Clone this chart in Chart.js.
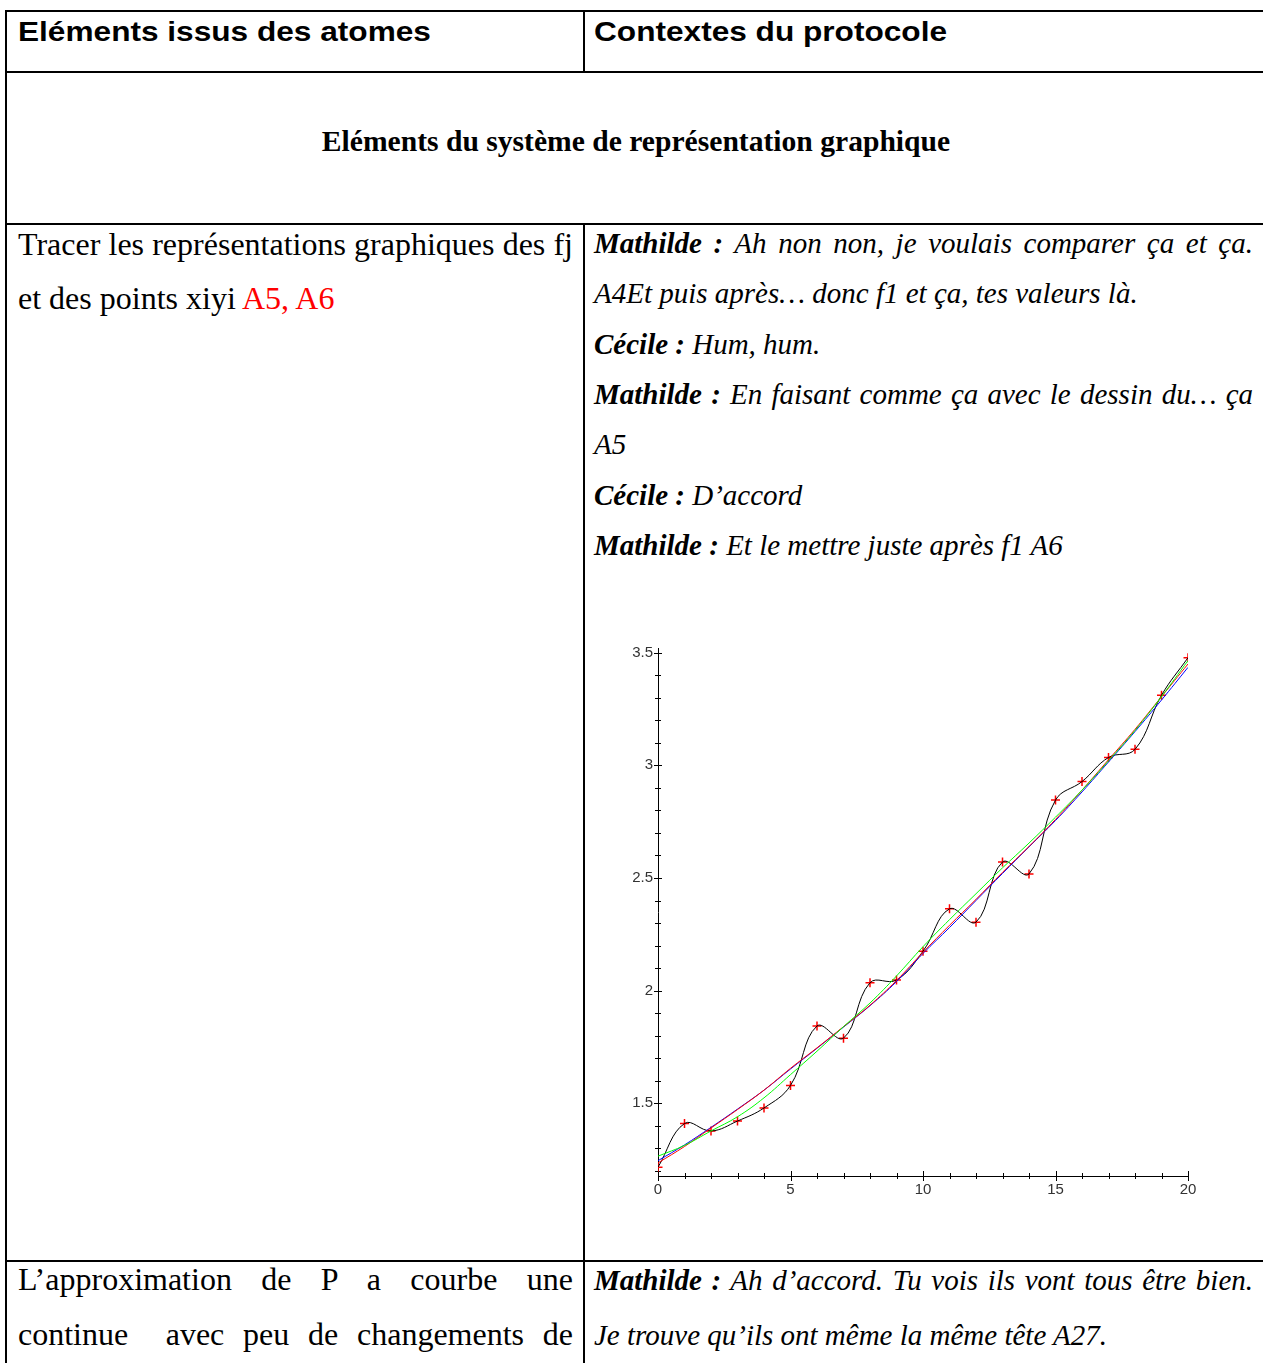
<!DOCTYPE html>
<html lang="fr">
<head>
<meta charset="utf-8">
<title>Eléments du système de représentation graphique</title>
<script src="https://cdn.jsdelivr.net/npm/chart.js@4.4.1/dist/chart.umd.min.js"></script>
<style>
  html, body { margin: 0; padding: 0; background: #fff; }
  body { width: 1263px; height: 1363px; position: relative; overflow: hidden; }
  .rule { position: absolute; background: #000; }
  .txt { position: absolute; white-space: nowrap; color: #000; }
  .head { font: bold 28px "Liberation Sans", Arial, sans-serif; line-height: 40px; transform-origin: 0 0; transform: scaleX(1.129); }
  .title { font: bold 29.6px "Liberation Serif", "Times New Roman", serif; line-height: 40px; text-align: center; }
  .left { font: 32px "Liberation Serif", "Times New Roman", serif; line-height: 40px; }
  .right { font: italic 29px "Liberation Serif", "Times New Roman", serif; line-height: 40px; }
  .just { text-align: justify; text-align-last: justify; }
  .red { color: #ff0000; }
  b { font-weight: bold; }
  #plot { position: absolute; left: 598px; top: 628px; width: 610px; height: 588px; }
</style>
</head>
<body>
<!-- table rules -->
<div class="rule" style="left:5px; top:10px; width:1263px; height:2px"></div>
<div class="rule" style="left:5px; top:10px; width:2px; height:1353px"></div>
<div class="rule" style="left:5px; top:71px; width:1263px; height:2px"></div>
<div class="rule" style="left:5px; top:223px; width:1263px; height:2px"></div>
<div class="rule" style="left:5px; top:1260px; width:1263px; height:2px"></div>
<div class="rule" style="left:583px; top:10px; width:2px; height:63px"></div>
<div class="rule" style="left:583px; top:223px; width:2px; height:1140px"></div>

<!-- header -->
<div class="txt head" style="left:18px; top:12px">Eléments issus des atomes</div>
<div class="txt head" style="left:594px; top:12px">Contextes du protocole</div>
<div class="txt title" style="left:0; top:121px; width:1272px">Eléments du système de représentation graphique</div>

<!-- left column -->
<div class="txt left just" style="left:18px; top:224px; width:555px">Tracer les représentations graphiques des fj</div>
<div class="txt left" style="left:18px; top:278px">et des points xiyi <span class="red">A5, A6</span></div>

<!-- right column -->
<div class="txt right just" style="left:594px; top:223px; width:659px"><b>Mathilde :</b> Ah non non, je voulais comparer ça et ça.</div>
<div class="txt right" style="left:594px; top:273px">A4Et puis après… donc f1 et ça, tes valeurs là.</div>
<div class="txt right" style="left:594px; top:324px"><b>Cécile :</b> Hum, hum.</div>
<div class="txt right just" style="left:594px; top:374px; width:659px"><b>Mathilde :</b> En faisant comme ça avec le dessin du… ça</div>
<div class="txt right" style="left:594px; top:424px">A5</div>
<div class="txt right" style="left:594px; top:475px"><b>Cécile :</b> D’accord</div>
<div class="txt right" style="left:594px; top:525px"><b>Mathilde :</b> Et le mettre juste après f1 A6</div>

<div id="plot"><canvas id="chart"></canvas></div>

<!-- last row -->
<div class="txt left just" style="left:18px; top:1259px; width:555px">L’approximation de P a courbe une</div>
<div class="txt left just" style="left:18px; top:1314px; width:555px">continue &nbsp;avec peu de changements de</div>
<div class="txt right just" style="left:594px; top:1260px; width:659px"><b>Mathilde :</b> Ah d’accord. Tu vois ils vont tous être bien.</div>
<div class="txt right" style="left:594px; top:1315px">Je trouve qu’ils ont même la même tête A27.</div>

<script>
// points xi, yi
const xs = [0, 1, 2, 3, 4, 5, 6, 7, 8, 9, 10, 11, 12, 13, 14, 15, 16, 17, 18, 19, 20];
const ys = [1.216, 1.410, 1.377, 1.421, 1.479, 1.579, 1.843, 1.789, 2.035, 2.047, 2.175,
            2.363, 2.304, 2.571, 2.518, 2.846, 2.928, 3.035, 3.071, 3.311, 3.478];

// approximations
const redFit = [1.235, 1.308, 1.390, 1.472, 1.558, 1.655, 1.746, 1.840, 1.935, 2.045, 2.170,
                2.290, 2.405, 2.525, 2.640, 2.760, 2.890, 3.025, 3.160, 3.305, 3.450];
const blueFit = [1.245, 1.315, 1.393, 1.474, 1.558, 1.652, 1.744, 1.838, 1.933, 2.040, 2.165,
                 2.280, 2.400, 2.520, 2.638, 2.755, 2.882, 3.015, 3.150, 3.290, 3.435];
const greenFit = [1.265, 1.313, 1.377, 1.440, 1.524, 1.627, 1.731, 1.840, 1.945, 2.065, 2.195,
                  2.315, 2.430, 2.545, 2.655, 2.770, 2.890, 3.020, 3.155, 3.305, 3.465];

const xMajor = [0, 5, 10, 15, 20];
const yMajor = [1.5, 2, 2.5, 3, 3.5];

const pts = arr => xs.map((x, i) => ({ x: x, y: arr[i] }));
const isMajor = (list, v) => list.some(m => Math.abs(m - v) < 1e-6);

// tick marks crossing the axes, like the original plot
const crossTicks = {
  id: "crossTicks",
  beforeDatasetsDraw(chart) {
    const { ctx, scales } = chart;
    const x = scales.x, y = scales.y;
    ctx.save();
    ctx.strokeStyle = "#000";
    ctx.lineWidth = 1;
    ctx.beginPath();
    x.ticks.forEach(t => {
      const px = Math.round(x.getPixelForValue(t.value)) + 0.5;
      const h = isMajor(xMajor, t.value) ? 5 : 3;
      ctx.moveTo(px, y.bottom - h);
      ctx.lineTo(px, y.bottom + h);
    });
    y.ticks.forEach(t => {
      const py = Math.round(y.getPixelForValue(t.value)) + 0.5;
      const w = isMajor(yMajor, t.value) ? 4 : 3;
      ctx.moveTo(x.left - w, py);
      ctx.lineTo(x.left + w, py);
    });
    ctx.stroke();
    ctx.restore();
  }
};

const labelFont = { family: "'Liberation Sans', Arial, sans-serif", size: 15 };

new Chart(document.getElementById("chart"), {
  type: "line",
  data: {
    datasets: [
      { data: pts(greenFit), borderColor: "#00ff00", borderWidth: 1, pointRadius: 0, tension: 0.4 },
      { data: pts(redFit), borderColor: "#ff0000", borderWidth: 1, pointRadius: 0, tension: 0.4 },
      { data: pts(blueFit), borderColor: "#0000ff", borderWidth: 1, pointRadius: 0, tension: 0.4 },
      { data: pts(ys), borderColor: "#000000", borderWidth: 1, pointRadius: 0, tension: 0.4 },
      {
        data: pts(ys), showLine: false, pointStyle: "cross", pointRadius: 4.5,
        pointBorderColor: "#ff0000", pointBorderWidth: 1.5, borderColor: "#ff0000"
      }
    ]
  },
  options: {
    responsive: true,
    maintainAspectRatio: false,
    animation: false,
    events: [],
    layout: { padding: { top: 20, right: 20, left: 0, bottom: 0 } },
    plugins: { legend: { display: false }, tooltip: { enabled: false } },
    scales: {
      x: {
        type: "linear",
        min: 0,
        max: 20,
        afterFit: s => { s.height = 40; },
        grid: { display: false, drawTicks: false },
        border: { display: true, color: "#000", width: 1 },
        ticks: {
          stepSize: 1,
          autoSkip: false,
          maxRotation: 0,
          padding: 5,
          color: "#333",
          font: labelFont,
          callback: v => (isMajor(xMajor, v) ? String(v) : "")
        }
      },
      y: {
        type: "linear",
        min: 1.177,
        max: 3.521,
        afterFit: s => { s.width = 60; },
        grid: { display: false, drawTicks: false },
        border: { display: true, color: "#000", width: 1 },
        ticks: {
          stepSize: 0.1,
          includeBounds: false,
          autoSkip: false,
          padding: 5,
          color: "#333",
          font: labelFont,
          callback: v => (isMajor(yMajor, v) ? String(Math.round(v * 10) / 10) : "")
        }
      }
    }
  },
  plugins: [crossTicks]
});
</script>
</body>
</html>
